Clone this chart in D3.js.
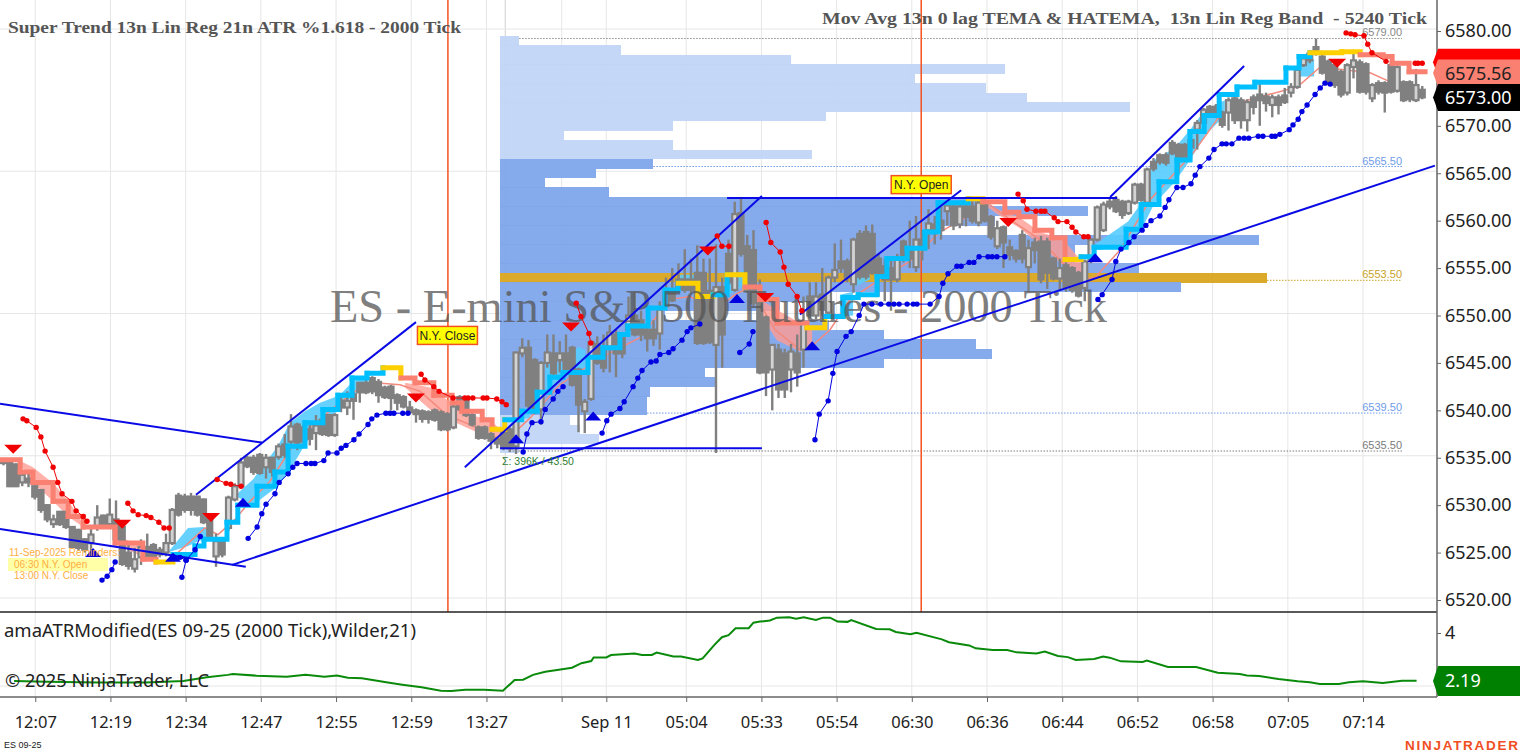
<!DOCTYPE html>
<html>
<head>
<meta charset="utf-8">
<script src="https://cdn.jsdelivr.net/npm/d3@7"></script>
<style>
    html, body { margin: 0; padding: 0; background: #fff; overflow: hidden; }
    text { font-family: "Liberation Sans", Arial, sans-serif; white-space: pre; }
    .axis-label text, .ui { font-family: "Noto Sans", sans-serif; }
</style>
</head>
<body>
<script>
// x positions are chart bars, prices are ES points
const tickBars = [7.5, 23.5, 39.5, 55.5, 71.5, 87.5, 103.5, 119.5, 129, 146, 162, 178, 194, 210, 226, 242, 258, 274, 290];
const tickLabels = ["12:07", "12:19", "12:34", "12:47", "12:55", "12:59", "13:27", "", "Sep 11", "05:04", "05:33", "05:54", "06:30", "06:36", "06:44", "06:52", "06:58", "07:05", "07:14"];
// 6575 sits behind the price tags
const priceTicks = [6580, 6570, 6565, 6560, 6555, 6550, 6545, 6540, 6535, 6530, 6525, 6520];
const gridPrices = [6580, 6565, 6550, 6535, 6520];
const sessionBars = [95.3, 196];

// open, close, high, low
const candles = [
    [6534.6,6534.5,6534.8,6534.2],[6534.5,6532,6534.6,6531.9],[6534.3,6532,6534.4,6531.9],[6532.4,6533.2,6533.4,6532],[6532.8,6532.4,6533.5,6531.9],
    [6532,6530.9,6532.1,6530.6],[6531.6,6529.5,6531.7,6529.2],[6530,6528.5,6530.1,6528.2],[6528,6528.5,6529,6527.6],[6529.3,6528,6529.4,6527.8],
    [6529.3,6527.7,6529.4,6527.5],[6527.7,6525.6,6527.8,6525.4],[6527.4,6525.5,6527.5,6525.2],[6526.4,6525.3,6526.5,6525],[6526,6526.9,6527.5,6524.8],
    [6527.7,6528.7,6530,6527.3],[6528.9,6527.7,6529,6527.5],[6528,6529,6530.7,6527.5],[6528.5,6526.4,6530.5,6526.2],[6527.7,6523.8,6527.8,6523.6],
    [6525,6523.6,6526,6523.2],[6523.3,6524.3,6525.5,6522.9],[6524.5,6525.6,6526.4,6523.7],[6525.6,6524.5,6527,6524.3],[6525.8,6524.6,6526,6524.4],
    [6525.3,6524.8,6525.6,6524.5],[6525,6526,6527,6524.6],[6526,6529.5,6529.7,6525.8],[6531,6529,6531.3,6528.8],[6530.9,6529.5,6531.2,6529.2],
    [6530.9,6529.5,6531.3,6528.9],[6530.9,6529,6531,6528.8],[6530.6,6528.2,6530.7,6528],[6529,6526.7,6529.1,6526.5],[6524.6,6526.2,6527,6523.5],
    [6526.2,6524.8,6526.4,6524.5],[6527.6,6530.8,6531,6527.3],[6530.6,6532,6532.3,6530.4],[6532,6534.5,6535,6531.8],[6535,6534.1,6535.2,6533.9],
    [6535,6533.5,6535.3,6533.2],[6535.3,6533.4,6535.5,6533.2],[6534,6535,6535.4,6532.8],[6535,6533.5,6535.1,6533],[6535.1,6536.2,6536.5,6534.8],
    [6536.4,6535.3,6537.5,6535],[6536.7,6538.3,6539.6,6536.2],[6538.5,6536.6,6538.7,6535.8],[6538.2,6536.7,6538.5,6536],[6538,6537,6538.5,6536.3],
    [6537.6,6538.4,6539.5,6535.8],[6539,6537.5,6539.2,6537.3],[6539.5,6537.4,6539.6,6537.2],[6537.4,6539.5,6539.7,6537.2],[6541,6540.3,6541.4,6539.8],
    [6540.3,6541,6542,6539.5],[6541.7,6541,6541.9,6539],[6542.9,6541.9,6543,6540.8],[6542.9,6541.9,6543.2,6541.7],[6543.4,6542,6543.6,6541.7],
    [6543,6541.6,6543.3,6540.8],[6542.4,6541.4,6542.6,6541.2],[6542.5,6541.3,6542.7,6540],[6541.6,6540.8,6541.8,6540],[6541.4,6540.4,6541.6,6540.2],
    [6540.3,6539.8,6541,6539.6],[6540,6539.6,6540.2,6538.7],[6539.9,6539.1,6540.1,6538.7],[6539.8,6539.1,6540,6538.6],[6540,6539,6540.2,6538.8],
    [6539.8,6538,6540,6537.8],[6539.6,6538,6539.8,6537.8],[6538.2,6540.4,6540.8,6538],[6541.4,6540.1,6541.6,6539.9],[6541.1,6539.5,6541.3,6539.3],
    [6539.5,6538.5,6539.8,6538.3],[6538.2,6537.1,6538.4,6536.9],[6538.2,6537.1,6538.4,6536.9],[6537.5,6536.8,6537.7,6535.9],[6537,6536.5,6537.2,6536],
    [6537.7,6536.1,6537.9,6535.8],[6538,6536,6538.2,6535.6],[6536.2,6546.1,6546.2,6535.4],[6546,6546.6,6547.6,6545.6],[6546.6,6540.5,6547.4,6540.2],
    [6545.3,6539.8,6545.5,6539.6],[6540.1,6545,6545.2,6538.5],[6545,6546.1,6548,6544.5],[6546,6543.9,6548,6543.7],[6545.3,6546,6547.3,6544],
    [6546,6544,6548,6543.8],[6546.6,6542.7,6546.8,6542.5],[6544.3,6540.6,6544.5,6537.7],[6539.9,6540.9,6541.2,6537.6],[6541.2,6547.2,6547.3,6541],
    [6547,6545,6547.8,6544.8],[6546.5,6544.5,6548,6544],[6546.7,6548.2,6549,6544],[6548,6546,6548.5,6543.5],[6548,6546,6548,6545.5],
    [6548.5,6550,6552,6548],[6550,6548,6552.5,6547.8],[6549.5,6548,6550.5,6547.3],[6548.5,6547.6,6550,6546.2],[6548.5,6547.6,6549.5,6546.8],
    [6548.1,6550.6,6551.5,6546.4],[6552.4,6551,6554,6550.8],[6552.3,6551.6,6555,6551.4],[6553.8,6552.8,6555.5,6552.4],[6553.8,6552.7,6557,6552.4],
    [6553.8,6552.7,6556,6552.4],[6554.5,6547.1,6557.4,6546.9],[6554.5,6547.1,6556,6546.9],[6552.6,6547.2,6556,6547],[6546.9,6553,6557.5,6535.5],
    [6553,6548,6554,6544.5],[6556.5,6553.5,6558,6553.2],[6552.7,6560.7,6562,6552.5],[6560.8,6556.5,6562.5,6556.2],[6557.3,6552.7,6558.5,6552.5],
    [6556.9,6551.3,6559,6551],[6551.3,6544,6553.8,6543.8],[6549.8,6544,6550,6541.5],[6544.3,6546.9,6547,6540],[6546.4,6542.2,6547,6541.3],
    [6546,6542.2,6546.5,6541.3],[6544.3,6546.2,6547,6541.9],[6546,6544,6548,6542.5],[6546.4,6549.3,6552,6544.5],[6552,6550,6553.5,6549.7],
    [6550,6552,6553.5,6549.6],[6552.2,6550.6,6555,6550],[6550.3,6554,6554.2,6550],[6554,6554.8,6557.6,6553.5],[6555.7,6555,6558,6554.5],
    [6555.7,6554,6556,6553.5],[6553.3,6558,6558.2,6552.4],[6558.6,6554.1,6559,6553.8],[6558.8,6554.1,6559.5,6553.8],[6558.6,6554.5,6559.6,6554.3],
    [6556,6554.5,6556.5,6552],[6555.2,6553.8,6556,6551.5],[6555,6553.8,6556,6550.5],[6553.8,6555.9,6556.5,6553.5],[6557.8,6555.9,6558,6555.6],
    [6557,6556,6560,6555],[6555.1,6558,6560.5,6554.6],[6558,6557,6559,6555.8],[6559,6559.7,6561.2,6557],[6559.6,6558.7,6560.5,6557.5],
    [6560,6559,6561.5,6558],[6561,6561.6,6562.2,6559.5],[6561.5,6559.5,6562,6559],[6559.6,6561.5,6562,6559.2],[6561.5,6560.4,6562,6559.4],
    [6561.5,6560,6562.1,6559.7],[6559.8,6561.9,6562.3,6559.4],[6561.9,6560,6562.2,6559.8],[6560.4,6558.3,6560.6,6558],[6557.3,6559.2,6560,6557],
    [6559.3,6557.7,6559.5,6555],[6557.2,6556.4,6558,6555.8],[6556.8,6556,6557,6555.6],[6558.5,6556,6559,6555.5],[6555.1,6557.1,6558,6552.5],
    [6557.7,6556.9,6558.2,6555.5],[6557.8,6553.8,6558.4,6553.4],[6557.8,6554.5,6558.2,6552.8],[6556,6553.9,6556.2,6553.7],[6553.9,6555,6556,6552.6],
    [6555.3,6553,6555.6,6552.5],[6555,6552.7,6555.2,6552.4],[6554.5,6552.1,6554.7,6551.9],[6552.9,6555.7,6555.9,6551.5],[6555.9,6558,6558.2,6555.5],
    [6558,6561.4,6561.6,6557.8],[6559,6561.7,6562,6558.8],[6562,6561.5,6562.3,6561.2],[6562.2,6561,6562.6,6560.8],[6562,6560.6,6562.2,6560.2],
    [6560.8,6562,6562.2,6560.6],[6561.9,6563.8,6564,6561.7],[6563.8,6562.2,6564,6562],[6561.9,6565.4,6565.6,6561.7],[6566.2,6565.5,6566.6,6565.2],
    [6566.9,6566.2,6567.1,6565.9],[6566.9,6566.1,6567.2,6565.8],[6568.2,6567.1,6568.5,6566.9],[6568,6566.6,6568.2,6565],[6568,6566.7,6568.2,6566.5],
    [6568.5,6567.7,6568.7,6566.5],[6569.6,6570.3,6570.6,6567.5],[6570.3,6571.7,6571.9,6570.1],[6572,6571.4,6572.2,6571.2],[6572,6571.3,6572.3,6570.8],
    [6571.4,6570.1,6571.6,6569.8],[6571.4,6572.7,6573,6569.5],[6572.9,6570.6,6573.2,6570.2],[6572.7,6570.6,6573,6569.7],[6570.6,6572.5,6572.8,6569.4],
    [6573,6572,6573.3,6571.2],[6573.3,6572.7,6574.8,6570],[6573.1,6572.4,6573.5,6571.5],[6572.2,6573,6573.3,6570.9],[6573,6572.2,6573.3,6571.2],
    [6573.2,6572.5,6574,6572.3],[6573.5,6574.1,6574.5,6573],[6574.1,6575.9,6576.2,6573.9],[6576.4,6577.1,6577.5,6576.2],[6577.6,6576.9,6578,6576.6],
    [6578.3,6577.7,6579.2,6577.4],[6577.3,6575.6,6577.5,6575.4],[6576.8,6574.5,6577,6574.3],[6576.4,6574.3,6576.6,6574],[6575.7,6573.3,6575.9,6573],
    [6573.5,6576.4,6576.6,6573.2],[6576.2,6576.9,6578,6575],[6576.7,6573.6,6577,6573.4],[6576.5,6573.6,6576.7,6573.3],[6572.9,6574.3,6574.5,6572.5],
    [6574.5,6573.6,6574.8,6573.3],[6574.5,6573.5,6574.7,6571.4],[6576.4,6573.6,6576.6,6573.4],[6573.7,6576.2,6576.4,6573.5],[6574.6,6572.7,6574.8,6572.5],
    [6574.6,6572.8,6574.8,6572.5],[6572.7,6574.3,6576,6572.5],[6573.8,6573,6574.2,6572.8]
];

// volume profile: one row per point, from 6579 down
const profileLevels = d3.range(6579, 6535, -1);
const profileVolumes = [0.6, 3.8, 9.1, 15.8, 13, 15.2, 16.5, 19.7, 10.2, 5.4, 2, 5.4, 9.75, 4.8, 3, 1.4, 3.4, 15.2, 18.4, 15.5, 13.75, 23.75, 18, 18, 20, 24, 21.3, 10.3, 8.75, 5.15, 10.3, 12, 14.9, 15.4, 12, 6.4, 6.8, 4.7, 4.6, 4.6, 2.2, 2.5, 3.1, 0.6];
const valueAreaHigh = 6566, valueAreaLow = 6540, pocLevel = 6554;

const levelPrices = [6579, 6565.5, 6553.5, 6539.5, 6535.5];
const levelStartVols = [0.6, 4.8, 24, 4.6, 0.3];
const levelColors = ["#8a8a8a", "#6f9be8", "#c9a227", "#6f9be8", "#7a7a7a"];

// HATEMA steps: bar where the level starts, level, colour key
const hatemaSteps = [
    [0,6534.8,"r"],[4.3,6533.5,"r"],[7,6532.4,"r"],[11.3,6530.4,"r"],[14.5,6528.8,"r"],[17.7,6527.7,"r"],[24.5,6526,"r"],[30.4,6524.3,"r"],
    [33.2,6524,"y"],[36.8,6524.8,"c"],[41.5,6525.7,"c"],[43.4,6526.4,"c"],[48.3,6528.2,"c"],[50.6,6530,"c"],[54.7,6532,"c"],[58.5,6533.5,"c"],[61.3,6536.2,"c"],
    [64.9,6538.7,"c"],[68.7,6540.1,"c"],[71.9,6541.6,"c"],[74.9,6543.4,"c"],[78.1,6543.9,"c"],[81.5,6544.5,"y"],[85.3,6543.4,"r"],[88.3,6542.9,"r"],[92.3,6541.6,"r"],
    [96.2,6540.8,"r"],[98.3,6539.9,"r"],[102.6,6539,"r"],[104.7,6538,"y"],[107.4,6539,"c"],[111,6539.9,"c"],[114.3,6541.9,"c"],[117,6543.5,"c"],[119.8,6544,"c"],
    [125.1,6545.6,"c"],[128.3,6546.6,"c"],[131.9,6548,"c"],[133.6,6548.9,"c"],[137.9,6550.8,"c"],[141.5,6552.7,"c"],[144.3,6553.4,"y"],[148.5,6552,"y"],[151.7,6552.2,"c"],
    [154.7,6554.3,"y"],[158.5,6553,"r"],[161.7,6551.7,"r"],[165.3,6549.2,"r"],[171.7,6548.7,"y"],[175.5,6549.9,"c"],[179.4,6551.9,"c"],[182.6,6552.2,"c"],[186.6,6554.1,"c"],
    [188.7,6556,"c"],[193,6557.1,"c"],[196.8,6558.8,"c"],[199.6,6561.9,"c"],[206,6562.3,"y"],[209.1,6562,"r"],[213.8,6560.9,"r"],[216.8,6560.4,"r"],[220.2,6559,"r"],
    [223.8,6558.2,"r"],[226.6,6555.9,"y"],[230,6556.2,"c"],[232.8,6557.2,"c"],[239.6,6559.1,"c"],[242.8,6561.7,"c"],[246.6,6564.1,"c"],[250.4,6566.4,"c"],[253.2,6569.4,"c"],
    [256.2,6571.1,"c"],[259.4,6573.3,"c"],[263.2,6574.1,"c"],[267,6574.6,"c"],[273.6,6576.1,"c"],[276.4,6577.3,"c"],[278.7,6577.7,"y"],[285.5,6577.8,"y"],[289.4,6577.5,"r"],
    [294.3,6577.3,"r"],[296.2,6576.6,"r"],[299.8,6575.7,"r"],[303.2,6575.7,"r"]
];
const stepColors = {r: "#fa8072", c: "#00bfff", y: "#ffd000"};

const temaLine = [
    [37.2,6524.7],[43.6,6527.6],[46.4,6526.9],[50,6528.5],[53.2,6530.4],[57.4,6532.5],[62.1,6536.1],[64.9,6537.7],[71.3,6540.4],[75.5,6542],[79.8,6542.9],[85.1,6542.7],
    [89.4,6542],[95.1,6539.5],[100,6538.5],[106.4,6536.9],[107.4,6536.7],[112.8,6539.2],[119.1,6542.7],[127.7,6545.5],[136.2,6547.7],[142.6,6551.7],[146.8,6552],[152.1,6550.6],
    [156.4,6552.2],[159.6,6553],[164.9,6548.5],[170.2,6546.4],[172.3,6546.6],[176.6,6548.5],[180.9,6551.7],[187.2,6553.8],[193.6,6555.7],[200,6558.8],[207.4,6560.9],[210.6,6561.7],
    [214.9,6560.1],[221.3,6558],[226.6,6555.3],[229.8,6553.8],[233,6554],[238.3,6556.9],[244.7,6562.2],[253.8,6567.1],[259.6,6571.1],[263.8,6572.5],[276,6574.1],[280.9,6576.2],
    [291.5,6575.6],[296.4,6574.5]
];

// bands between the TEMA and the HATEMA: bar, one edge, other edge
const blueBands = [
    [[35.7,6525,6525],[40,6527.6,6525.7],[43.2,6527.7,6526.4],[44.7,6527.4,6527.1]],
    [[50,6531,6531],[53.8,6532.7,6530],[59.1,6536.2,6532],[61.7,6538.7,6533.7],[64.9,6539.9,6536.4],[68.1,6540.8,6538.5],[72.3,6541.6,6540.1],[75.1,6543.1,6541.6],[78.3,6543.4,6543]],
    [[110.2,6539.9,6539],[112.8,6540.3,6539.2]],
    [[116,6544.8,6542],[120.2,6545.1,6543.4],[123,6546.7,6544.1],[124.5,6546.4,6544]],
    [[144.7,6554.3,6553.4],[148,6554.3,6553.4]],
    [[154.3,6552.7,6552],[158.5,6555,6553.2]],
    [[178.7,6552.2,6549.9],[181.5,6552.5,6550]],
    [[181.6,6556.2,6553],[185.1,6556.2,6553.8]],
    [[233,6557.5,6556.9],[240,6559.9,6557.2],[242.6,6561.7,6558.8],[245.5,6566.4,6561.7],[250,6567.7,6564.1],[253.2,6569.6,6566.4],[256.4,6571.7,6569],[260.6,6572.7,6571.1]],
    [[276.4,6577,6575.2],[279.6,6577,6575.2]]
];
const pinkBands = [
    [[3.8,6534.8,6534.6],[7,6534,6532.4],[11.3,6532.3,6530.4],[14.5,6530.5,6528.8],[17.7,6528,6527.7]],
    [[25.1,6526.7,6525.8],[31.3,6525.5,6524.3],[33.4,6524.7,6524.3]],
    [[86.2,6542.9,6542.4],[91.5,6542.4,6540.1],[95.7,6540.9,6539],[100,6539.5,6538],[104.3,6539,6537.1],[106.4,6538,6536.9]],
    [[159.6,6553,6552.7],[161.7,6551.7,6550.1],[165.3,6550.6,6547.4],[170.2,6549.2,6546.2],[172.8,6548.9,6546.8]],
    [[209.6,6561.7,6561.6],[212.8,6561.1,6560.5],[217,6560.3,6559.2],[221.3,6558.8,6557.4],[226.2,6558,6555.3],[230.2,6555.7,6553.2]]
];

// super trend dots, one list per run
const blueDots = [
    [[21.7,6522.1],[22.8,6522.5],[23.8,6523.2],[24.5,6524]],
    [[36.8,6524.6],[38.3,6524.5],[39.6,6524.2]],
    [[38.7,6522.4],[39.6,6524.2],[41.5,6525.3],[42.6,6526.7]],
    [[52.8,6526.5],[54.7,6527.7],[55.7,6529.1],[56.6,6530.1],[58.5,6531.2],[59.4,6532.4],[61.3,6533.3],[62.3,6534],[63.2,6534.4],[65.1,6534.4],[66.2,6534.4],[67,6534.4],[68.9,6534.7],[69.8,6535.5],[71.7,6535.5],[72.6,6536],[73.6,6536.3],[75.3,6536.9],[76.4,6537.5],[78.3,6538.5],[79.1,6539.1],[80.2,6539.5],[82.1,6539.7],[83,6539.7],[83.8,6539.7],[85.7,6539.7],[86.8,6539.7]],
    [[111.3,6535.6],[112.1,6537.5],[113.2,6538.7],[115.1,6538.8],[116,6540.1],[117.7,6541.2],[118.7,6542],[119.8,6542.5]],
    [[128.1,6537.6],[129.1,6538.9],[130,6539.6],[131.9,6540.2],[132.8,6540.9],[134.7,6542.5],[135.7,6543.4],[136.6,6544.2],[138.5,6545.1],[139.6,6545.2],[140.4,6545.9],[142.3,6546.1],[143.2,6546.5],[145.1,6547.4],[146.2,6548.3],[147,6548.7],[148.9,6549.1]],
    [[157.4,6546.1],[159.4,6547],[160.2,6548.3]],
    [[173.4,6536.9],[174.3,6539.6],[176.2,6541],[177.2,6543.9],[178.1,6546.2],[180,6547.8],[181.1,6548.3],[182.8,6550],[183.8,6551.2],[185.5,6551.2],[187.4,6551.2],[189.1,6551.2],[190.2,6551.2],[191.3,6551.2],[193,6551.2],[194.3,6551.2],[195.1,6551.2],[197.9,6551.2],[199.8,6552],[200.6,6553.4],[201.7,6554.4],[203.6,6555.2],[204.5,6555.2],[206.2,6555.6],[207.2,6555.6],[208.3,6556.2],[210.2,6556.2],[211.1,6556.2],[212.1,6556.2],[213.8,6556.2]],
    [[233.6,6551.7],[234.5,6552.2],[236.6,6553.8],[237.4,6555.7],[238.5,6557],[240.2,6557.7],[241.3,6558.3],[243,6559],[243.8,6559.5],[244.9,6560],[246.8,6560.5],[247.9,6561.4],[248.7,6562.2],[250.4,6563.5],[251.7,6563.5],[253.4,6563.9],[254.3,6564.8],[255.3,6565.7],[257.2,6566.6],[258.3,6567.5],[260,6568.1],[260.9,6568.1],[262.1,6568.1],[263.6,6568.7],[264.7,6568.7],[265.7,6568.7],[267.7,6568.9],[268.7,6568.9],[270.6,6568.9],[271.3,6568.9],[272.3,6569.1],[274.3,6569.6],[275.1,6570.1],[276.2,6570.7],[277,6571.5],[278.1,6572.2],[279.8,6573.3],[280.9,6574],[281.9,6574.5],[283,6574.4]]
];
const redDots = [
    [[4.9,6539.1],[5.7,6538.9],[7.7,6538.2],[8.7,6537.2],[9.6,6535.7],[11.3,6534],[12.3,6532.4],[13.2,6531.2],[15.3,6530.4],[16.2,6529.4],[17.7,6528.8],[18.5,6528.3]],
    [[27.2,6530.2],[28.3,6529.4],[29.4,6529],[31.1,6528.9],[32.1,6528.7],[33.8,6528.2],[34.9,6527.6],[36,6527.6]],
    [[46.2,6532.7],[48.1,6532.3],[49.1,6532.2],[51.3,6532]],
    [[89.6,6543.8],[90.4,6543.2],[92.3,6542.5],[93.4,6542],[96.4,6541.3],[98.9,6541.3],[99.6,6541.3],[100.6,6541.3],[102.8,6541.3],[103.6,6541.3],[105.7,6541.2],[106.8,6540.9],[107.7,6540.6]],
    [[122.6,6551.3],[123.6,6549.9],[125.3,6548.1],[125.7,6547.1]],
    [[152.6,6558.4],[153.6,6557.3],[155.1,6557.3]],
    [[163,6559.8],[164,6557.7],[166,6556.7],[166.8,6555.1],[167.7,6553.3],[169.6,6552],[170.6,6550.5]],
    [[216.6,6562.8],[217.7,6562.1],[218.5,6561.2],[220.4,6561],[221.5,6561],[222.3,6561],[224.3,6560.3],[225.1,6559.9],[227,6559.9],[228.1,6559.3],[228.9,6558.8],[230.6,6558.3],[231.5,6558.3]],
    [[286.4,6579.8],[287.4,6579.7],[288.3,6579.6],[290.2,6579.5],[291,6578.6],[291.9,6577.7],[294.9,6576.8]],
    [[301.1,6576.6],[301.7,6576.6],[302.6,6576.6]]
];
const sellMarkers = [[2.8,6535.9],[26,6528],[44.9,6528.7],[88.5,6541.3],[121.5,6548.8],[150.6,6556.8],[162.8,6551.9],[214.5,6559.8],[284.5,6576.6]];
const buyMarkers = [[19.8,6525],[36.8,6524.5],[51.7,6530.3],[109.8,6537],[126.2,6539.4],[156.8,6551.8],[172.8,6546.8],[233,6556.1]];

// bar A, price A, bar B, price B
const trendLines = [
    [0,6540.7,55.7,6536.6],[0,6527.5,52.3,6523.5],[49.4,6523.7,305.3,6565.8],[41.7,6531.1,88.5,6549.3],[98.9,6534,162.1,6562.6],
    [106.4,6536,162.1,6536],[154.7,6562.4,237.7,6562.4],[170.2,6550.1,204.5,6563.2],[236.2,6562.5,264.7,6576.3]
];

const atrSeries = [
    [3,2.19],[10,2.16],[21,2.13],[31,2.13],[39,2.19],[44,2.33],[48.5,2.42],[49.5,2.45],[54.6,2.39],[61,2.35],[65,2.42],[69,2.35],[71.7,2.4],[74,2.31],[77,2.29],[82.5,2.13],[85.6,2.05],[89.7,1.95],[93.8,1.82],[96,1.81],[99,1.86],[103,1.86],[107,1.82],
    [109.5,2.23],[111.3,2.24],[113.4,2.42],[116,2.54],[119.6,2.63],[121.7,2.69],[123.7,2.86],[125.8,2.94],[126.3,3.08],[129,3.08],[130,3.17],[135,3.23],[136.6,3.17],[138.7,3.17],[139.7,3.26],[143.3,3.11],[144.9,3.11],[148.5,2.98],[149.5,3.04],
    [152,3.55],[153.6,3.84],[155,3.92],[156.5,4.18],[159.3,4.18],[160.3,4.39],[161.7,4.43],[163.8,4.47],[165.3,4.58],[167.9,4.59],[169.4,4.54],[171,4.59],[173.6,4.49],[175.1,4.58],[176.6,4.58],[178.2,4.43],[180.3,4.42],[181.1,4.49],
    [186.4,4.15],[189.3,4.14],[190.6,4.04],[193.7,3.95],[195,4.01],[200.4,3.76],[201.9,3.65],[206.2,3.53],[207.6,3.42],[211.2,3.36],[214.3,3.36],[216.3,3.27],[220.5,3.23],[222.3,3.3],[225.1,3.13],[227.2,3.09],[228.9,2.98],[232.8,3.02],[234.7,3.11],[236.1,3.07],
    [238.5,2.93],[243.1,2.91],[244,2.96],[248.5,2.72],[254.5,2.72],[259.1,2.5],[263.8,2.45],[265.3,2.4],[267.9,2.38],[272,2.26],[276.1,2.18],[278.7,2.14],[280.8,2.08],[284.9,2.08],[287,2.14],[290,2.18],[294.2,2.11],[298.3,2.2],[301.4,2.2]
];

const width = 1520, height = 754;
const svg = d3.select("body").append("svg").attr("width", width).attr("height", height);

const x = d3.scaleLinear().domain([0, 323.4]).range([0, width]);
const xSlot = d3.scaleLinear().domain([0, candles.length - 1]).range([3.5, 1422.25]);
const y = d3.scaleLinear().domain([6580, 6520]).range([31, 600]);
const yAtr = d3.scaleLinear().domain([4, 2]).range([633, 686]);
const xVol = d3.scaleLinear().domain([0, 24]).range([500, 1267]);
const gridShift = -2;

svg.append("clipPath").attr("id", "main-clip").append("rect").attr("width", 1437).attr("height", 612);
svg.append("clipPath").attr("id", "atr-clip").append("rect").attr("y", 612).attr("width", 1437).attr("height", 85);

// grid
const gridColor = "#e6e6e6";
svg.append("g").selectAll("line").data(tickBars).join("line")
    .attr("x1", d => x(d)).attr("x2", d => x(d)).attr("y1", 0).attr("y2", 697)
    .attr("stroke", gridColor);
svg.append("line").attr("x1", x(107.5)).attr("x2", x(107.5)).attr("y1", 0).attr("y2", 697).attr("stroke", "#cfcfcf");
svg.append("g").selectAll("line").data(gridPrices).join("line")
    .attr("x1", 0).attr("x2", 1437).attr("y1", d => y(d) + gridShift).attr("y2", d => y(d) + gridShift)
    .attr("stroke", gridColor);
svg.append("line").attr("x1", 0).attr("x2", 1437).attr("y1", yAtr(2)).attr("y2", yAtr(2)).attr("stroke", gridColor);

const main = svg.append("g").attr("clip-path", "url(#main-clip)");

// volume profile
main.append("g").selectAll("rect").data(profileLevels).join("rect")
    .attr("x", xVol(0))
    .attr("y", d => y(d + 0.5))
    .attr("width", (d, i) => xVol(profileVolumes[i]) - xVol(0))
    .attr("height", d => y(d - 0.5) - y(d + 0.5) + 0.4)
    .attr("fill", d => d === pocLevel ? "#daa520" : (d <= valueAreaHigh && d >= valueAreaLow ? "#7fa6ec" : "#c1d5f6"))
    .attr("opacity", 0.95)
    .attr("shape-rendering", "crispEdges");

// key levels
levelPrices.forEach((p, i) => {
    main.append("line")
        .attr("x1", xVol(levelStartVols[i])).attr("x2", x(298.3))
        .attr("y1", y(p) + gridShift).attr("y2", y(p) + gridShift)
        .attr("stroke", levelColors[i]).attr("stroke-dasharray", "1.5,1.5");
    main.append("text")
        .attr("x", x(298.3)).attr("y", y(p) + gridShift - 2)
        .attr("text-anchor", "end").attr("font-size", 11)
        .attr("fill", levelColors[i]).text(p.toFixed(2));
});

// session lines
main.append("g").selectAll("line").data(sessionBars).join("line")
    .attr("x1", d => x(d)).attr("x2", d => x(d)).attr("y1", 0).attr("y2", 612)
    .attr("stroke", "#f4511e").attr("stroke-width", 1.5);

// bands and tema
const band = d3.area().x(d => x(d[0])).y0(d => y(d[1])).y1(d => y(d[2]));
main.append("g").selectAll("path").data(pinkBands).join("path")
    .attr("d", band).attr("fill", "#ff9c92").attr("opacity", 0.8);
main.append("g").selectAll("path").data(blueBands).join("path")
    .attr("d", band).attr("fill", "#55ccff").attr("opacity", 0.9);
const priceLine = d3.line().x(d => x(d[0])).y(d => y(d[1]));
main.append("path").datum(temaLine).attr("d", priceLine)
    .attr("fill", "none").attr("stroke", "#f4897d").attr("stroke-width", 1.5);

// candles
const candle = main.append("g").selectAll("g").data(candles).join("g");
candle.append("line")
    .attr("x1", (d, i) => xSlot(i)).attr("x2", (d, i) => xSlot(i))
    .attr("y1", d => y(d[2])).attr("y2", d => y(d[3]))
    .attr("stroke", "#808080").attr("stroke-width", 2.4);
candle.append("rect")
    .attr("x", (d, i) => xSlot(i) - 2.5)
    .attr("y", d => y(Math.max(d[0], d[1])))
    .attr("width", 5)
    .attr("height", d => Math.max(1.5, Math.abs(y(d[0]) - y(d[1]))))
    .attr("fill", d => d[1] >= d[0] ? "#d3d3d3" : "#808080")
    .attr("stroke", "#808080").attr("stroke-width", 2.2);

// stepped hatema
main.append("g").selectAll("path").data(hatemaSteps.slice(0, -1)).join("path")
    .attr("d", (d, i) => {
        const next = hatemaSteps[i + 1];
        return priceLine([[d[0], d[1]], [next[0], d[1]]]) + priceLine([[next[0], d[1]], [next[0], next[1]]]);
    })
    .attr("fill", "none").attr("stroke-width", 5).attr("stroke-linecap", "square")
    .attr("stroke", d => stepColors[d[2]]);

// watermark
main.append("text")
    .attr("x", 330).attr("y", 322)
    .attr("textLength", 777).attr("lengthAdjust", "spacingAndGlyphs")
    .attr("font-size", 46).style("font-family", "'Liberation Serif', serif")
    .attr("fill", "#555").attr("opacity", 0.75)
    .text("ES - E-mini S&P 500 Futures - 2000 Tick");

// trend lines
main.append("g").selectAll("line").data(trendLines).join("line")
    .attr("x1", d => x(d[0])).attr("y1", d => y(d[1]))
    .attr("x2", d => x(d[2])).attr("y2", d => y(d[3]))
    .attr("stroke", "#0a0ae6").attr("stroke-width", 2);

// super trend dots
function drawDots(runs, color) {
    const run = main.append("g").selectAll("g").data(runs).join("g");
    run.append("path").attr("d", priceLine).attr("fill", "none").attr("stroke", color).attr("stroke-width", 1);
    run.selectAll("circle").data(d => d).join("circle")
        .attr("cx", d => x(d[0])).attr("cy", d => y(d[1])).attr("r", 2.7).attr("fill", color);
}
drawDots(blueDots, "#0000e0");
drawDots(redDots, "#f00000");

// arrows
main.append("g").selectAll("path").data(sellMarkers).join("path")
    .attr("transform", d => `translate(${x(d[0])},${y(d[1])})`)
    .attr("d", "M-9,-4.5L9,-4.5L0,4.5Z").attr("fill", "#f00000");
main.append("g").selectAll("path").data(buyMarkers).join("path")
    .attr("transform", d => `translate(${x(d[0])},${y(d[1])})`)
    .attr("d", "M-8,4.5L8,4.5L0,-4.5Z").attr("fill", "#0000e0");

// titles
function serifTitle(label, left, base, len) {
    svg.append("text").attr("x", left).attr("y", base)
        .attr("textLength", len).attr("lengthAdjust", "spacingAndGlyphs")
        .attr("font-size", 16).attr("font-weight", "bold")
        .style("font-family", "'Liberation Serif', serif").attr("fill", "#555")
        .text(label);
}
serifTitle("Super Trend 13n Lin Reg 21n ATR %1.618 - 2000 Tick", 8, 33, 453);
serifTitle("Mov Avg 13n 0 lag TEMA & HATEMA,  13n Lin Reg Band  - 5240 Tick", 822, 24, 605);

// session flags
const flags = [[95.2, 6547.9, "N.Y. Close"], [196, 6563.8, "N.Y. Open"]];
const flag = svg.append("g").selectAll("g").data(flags).join("g")
    .attr("transform", d => `translate(${x(d[0])},${y(d[1])})`);
flag.append("rect").attr("x", -30).attr("y", -9).attr("width", 60).attr("height", 18)
    .attr("fill", "#ffff00").attr("stroke", "#f4511e").attr("stroke-width", 1.5);
flag.append("text").attr("text-anchor", "middle").attr("y", 4.5).attr("font-size", 12).attr("fill", "#222").text(d => d[2]);

// reminders and profile note
svg.append("rect").attr("x", 8).attr("y", 558).attr("width", 100).attr("height", 13).attr("fill", "#ffffa8");
const reminderLines = [["11-Sep-2025 Reminders:", 9, 556], ["06:30 N.Y. Open", 14, 568], ["13:00 N.Y. Close", 14, 579]];
svg.append("g").selectAll("text").data(reminderLines).join("text")
    .attr("x", d => d[1]).attr("y", d => d[2]).attr("font-size", 10).attr("fill", "#ffae42").text(d => d[0]);
svg.append("text").attr("x", 502).attr("y", 465).attr("font-size", 10.5).attr("fill", "#2e7d32").text("Σ: 396K / 43.50");

// atr panel
svg.append("path").datum(atrSeries)
    .attr("clip-path", "url(#atr-clip)")
    .attr("d", d3.line().x(d => x(d[0])).y(d => yAtr(d[1])))
    .attr("fill", "none").attr("stroke", "#0a8a0a").attr("stroke-width", 2);
svg.append("text").attr("x", 4).attr("y", 637).attr("font-size", 18)
    .attr("textLength", 412).attr("lengthAdjust", "spacingAndGlyphs").attr("fill", "#222")
    .style("font-family", "'Noto Sans', sans-serif").text("amaATRModified(ES 09-25 (2000 Tick),Wilder,21)");
svg.append("text").attr("x", 5).attr("y", 687).attr("font-size", 18)
    .attr("textLength", 204).attr("lengthAdjust", "spacingAndGlyphs").attr("fill", "#222")
    .style("font-family", "'Noto Sans', sans-serif").text("© 2025 NinjaTrader, LLC");

// frame
svg.append("line").attr("x1", 0).attr("x2", 1437).attr("y1", 612).attr("y2", 612).attr("stroke", "#222").attr("stroke-width", 1.5);
svg.append("line").attr("x1", 0).attr("x2", 1437).attr("y1", 697).attr("y2", 697).attr("stroke", "#666").attr("stroke-width", 1.5);
svg.append("line").attr("x1", 1437).attr("x2", 1437).attr("y1", 0).attr("y2", 697).attr("stroke", "#666").attr("stroke-width", 1.5);

// axes
const bottomAxis = svg.append("g").attr("class", "axis-label").attr("transform", "translate(0,697)")
    .call(d3.axisBottom(x).tickValues(tickBars).tickSize(5).tickPadding(14)
        .tickFormat((d, i) => tickLabels[i]));
bottomAxis.select(".domain").remove();
bottomAxis.selectAll("line").attr("stroke", "#666");
bottomAxis.selectAll("text").attr("font-size", 16.5).attr("fill", "#222");

const priceAxis = svg.append("g").attr("class", "axis-label").attr("transform", "translate(1437,0)")
    .call(d3.axisRight(y).tickValues(priceTicks).tickSize(4).tickPadding(4).tickFormat(d => d.toFixed(2)));
priceAxis.select(".domain").remove();
priceAxis.selectAll("line").attr("stroke", "#666");
priceAxis.selectAll("text").attr("font-size", 18).attr("fill", "#222");

const atrAxis = svg.append("g").attr("class", "axis-label").attr("transform", "translate(1437,0)")
    .call(d3.axisRight(yAtr).tickValues([4]).tickSize(4).tickPadding(4).tickFormat(d3.format("d")));
atrAxis.select(".domain").remove();
atrAxis.selectAll("line").attr("stroke", "#666");
atrAxis.selectAll("text").attr("font-size", 18).attr("fill", "#222");

// price tags
const tagPrices = [6576.7, 6575.56, 6573];
const tagLabels = ["", "6575.56", "6573.00"];
const tagFills = ["#ff0000", "#fa8072", "#000000"];
const tagText = ["#fff", "#222", "#fff"];
function drawTag(cy, h, fill, textFill, label) {
    const g = svg.append("g").attr("transform", `translate(0,${cy})`);
    g.append("path")
        .attr("d", `M1433,0L1438,${-h / 2}L1520,${-h / 2}L1520,${h / 2}L1438,${h / 2}Z`)
        .attr("fill", fill);
    g.append("text").attr("x", 1445).attr("y", 6.5).attr("font-size", 18).attr("fill", textFill)
        .style("font-family", "'Noto Sans', sans-serif").text(label);
}
tagPrices.forEach((p, i) => drawTag(y(p), 27, tagFills[i], tagText[i], tagLabels[i]));
drawTag(yAtr(2.19), 30, "#008000", "#fff", "2.19");

// footer
svg.append("text").attr("x", 4).attr("y", 748).attr("font-size", 9).attr("fill", "#222").text("ES 09-25");
svg.append("text").attr("x", 1405).attr("y", 750).attr("font-size", 13.5).attr("font-weight", "bold")
    .attr("textLength", 113).attr("fill", "#f04e23").text("NINJATRADER");
</script>
</body>
</html>
